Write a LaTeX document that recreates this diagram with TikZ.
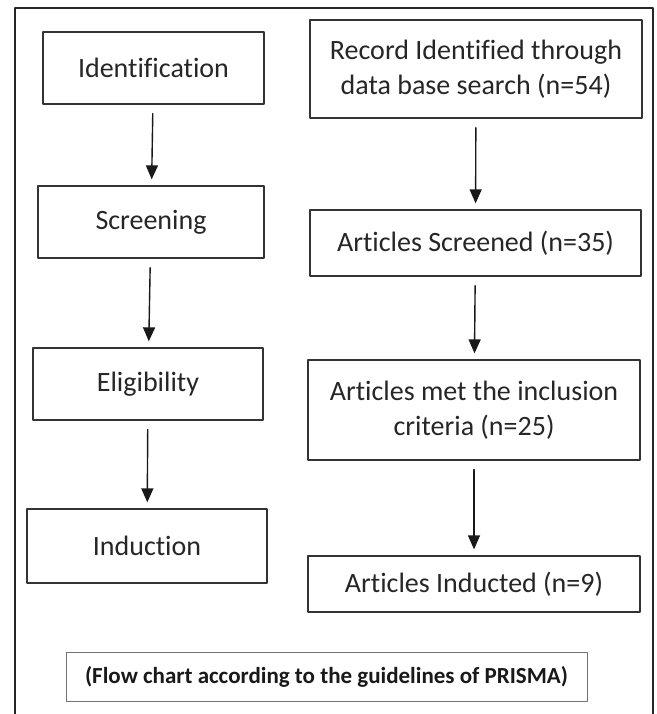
\documentclass[tikz,border=0pt]{standalone}
\usepackage{fontspec}
\setmainfont{Carlito}[Ligatures=NoCommon]
\usetikzlibrary{arrows.meta}

\tikzset{
  stage/.style={draw=black!80,line width=1.3pt,text=black!85,align=center,
    font=\fontsize{28}{35}\selectfont,inner sep=0pt},
  flow/.style={->,line width=1.4pt,black!90,shorten <=9pt,shorten >=6pt}
}

\begin{document}
\begin{tikzpicture}[line cap=round,line join=round,>={Triangle[length=14pt,width=12pt]},x=1pt,y=-1pt]
\useasboundingbox (0,0) rectangle (656,714);
\fill[white] (0,0) rectangle (656,714);
\draw[line width=2pt,black!85] (15,740) -- (15,8) -- (653,8) -- (653,740);

% left column
\node[stage,minimum width=221pt,minimum height=72pt] (ident) at (153.5,68) {Identification};
\node[stage,minimum width=226pt,minimum height=72pt] (screen) at (151,222) {Screening};
\node[stage,minimum width=230pt,minimum height=72pt] (elig) at (148,384) {Eligibility};
\node[stage,minimum width=240pt,minimum height=74pt] (induct) at (147,546) {Induction};

% right column
\node[stage,minimum width=332pt,minimum height=98pt] (record) at (476,69) {Record Identified through\\data base search (n=54)};
\node[stage,minimum width=331pt,minimum height=66pt] (screened) at (475.5,243) {Articles Screened (n=35)};
\node[stage,minimum width=332pt,minimum height=100pt] (incl) at (474,410) {Articles met the inclusion\\criteria (n=25)};
\node[stage,minimum width=332pt,minimum height=56pt] (inducted) at (474,584) {Articles Inducted (n=9)};

\draw[flow] (ident) -- (screen);
\draw[flow] (screen) -- (elig);
\draw[flow] (elig) -- (induct);
\draw[flow] (record) -- (screened);
\draw[flow] (screened) -- (incl);
\draw[flow] (incl) -- (inducted);

\node[draw=black!55,line width=1pt,minimum width=521pt,minimum height=49pt,text=black!90,
  font=\fontsize{23}{27}\selectfont\bfseries] (note) at (326.5,676.5) {(Flow chart according to the guidelines of PRISMA)};
\end{tikzpicture}
\end{document}
